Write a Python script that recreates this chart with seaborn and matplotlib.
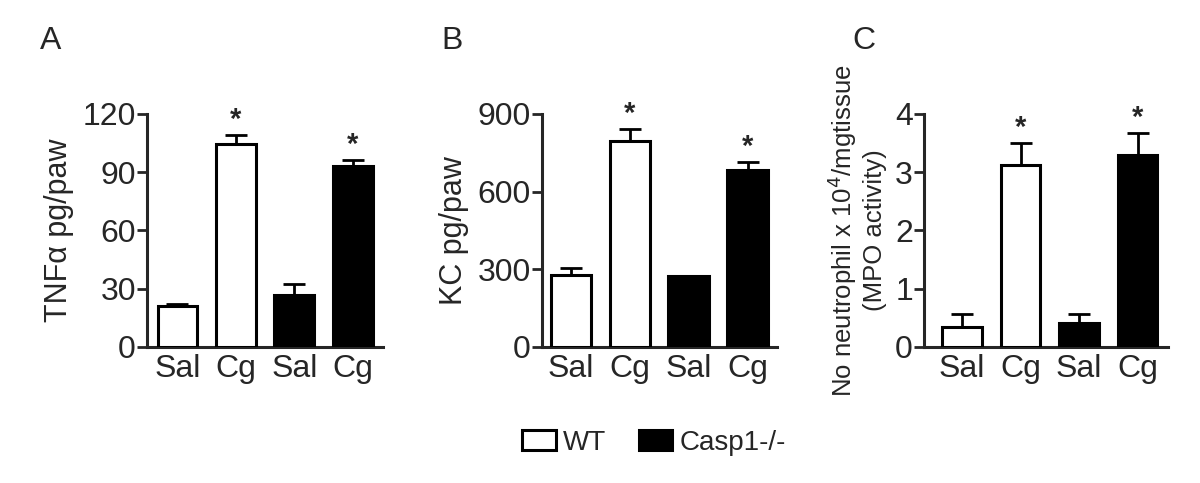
import numpy as np
import pandas as pd
import matplotlib
matplotlib.use("Agg")
import matplotlib.pyplot as plt
from matplotlib.patches import Patch
import seaborn as sns

# -----------------------------
# Data
# -----------------------------
groups = ["WT Sal", "WT Cg", "KO Sal", "KO Cg"]
genotype = ["WT", "WT", "Casp1-/-", "Casp1-/-"]
tick_labels = ["Sal", "Cg", "Sal", "Cg"]

tnf_mean = [21.1, 104.5, 26.8, 93.2]
tnf_sem = [1.0, 4.6, 5.5, 3.1]

kc_mean = [277, 794, 273, 683]
kc_sem = [30, 49, 0, 33]

mpo_mean = [0.34, 3.13, 0.41, 3.29]
mpo_sem = [0.23, 0.37, 0.15, 0.39]

stars = [False, True, False, True]

sns.set_style("ticks")
plt.rcParams["font.family"] = ["Liberation Sans", "DejaVu Sans"]

fig = plt.figure(figsize=(12, 4.83), dpi=100)

panels = [
    ("A", tnf_mean, tnf_sem, [0, 30, 60, 90, 120], 120, "TNFα pg/paw", 22,
     [0.1225, 0.2816, 0.1967, 0.4824], (-0.52, 3.52), 0.0425),
    ("B", kc_mean, kc_sem, [0, 300, 600, 900], 900, "KC pg/paw", 22,
     [0.4514, 0.2816, 0.1961, 0.4824], (-0.49, 3.5), 0.377),
    ("C", mpo_mean, mpo_sem, [0, 1, 2, 3, 4], 4,
     "No neutrophil x 10$^4$/mgtissue\n(MPO activity)", 18.5,
     [0.77, 0.2816, 0.2033, 0.4824], (-0.65, 3.52), 0.72),
]

palette = {"WT": "white", "Casp1-/-": "black"}

for letter, means, sems, yticks, ymax, ylabel, ylsize, rect, xlim, lx in panels:
    ax = fig.add_axes(rect)
    df = pd.DataFrame({"group": groups, "genotype": genotype, "value": means})
    sns.barplot(data=df, x="group", y="value", hue="genotype", order=groups,
                palette=palette, edgecolor="black", linewidth=2.2, width=0.68,
                errorbar=None, legend=False, ax=ax, zorder=3)
    x = np.arange(len(groups))
    ax.errorbar(x, means, yerr=[np.zeros(len(sems)), sems], fmt="none",
                ecolor="black", elinewidth=2, capsize=8, capthick=2, zorder=2)
    for xi, m, s, st in zip(x, means, sems, stars):
        if st:
            ax.text(xi, m + s + ymax * 0.005, "*", ha="center", va="bottom",
                    fontsize=21, fontweight="bold")
    ax.set_ylim(0, ymax)
    ax.set_xlim(*xlim)
    ax.set_yticks(yticks)
    ax.set_xticks(x)
    ax.set_xticklabels(tick_labels, fontsize=23)
    ax.tick_params(axis="y", labelsize=23, width=2, length=7, pad=1)
    ax.tick_params(axis="x", length=0, pad=5)
    ax.set_xlabel("")
    ax.set_ylabel(ylabel, fontsize=ylsize, labelpad=6)
    sns.despine(ax=ax)
    for sp in ["left", "bottom"]:
        ax.spines[sp].set_linewidth(2.2)
    fig.text(lx, 0.915, letter, fontsize=23, ha="center", va="center")

handles = [Patch(facecolor="white", edgecolor="black", linewidth=2.2, label="WT"),
           Patch(facecolor="black", edgecolor="black", linewidth=2.2, label="Casp1-/-")]
fig.legend(handles=handles, loc="center", bbox_to_anchor=(0.545, 0.083), ncol=2,
           frameon=False, fontsize=20, handlelength=1.2, handleheight=0.75,
           handletextpad=0.25, columnspacing=1.2)

fig.savefig("out.png", dpi=100)
